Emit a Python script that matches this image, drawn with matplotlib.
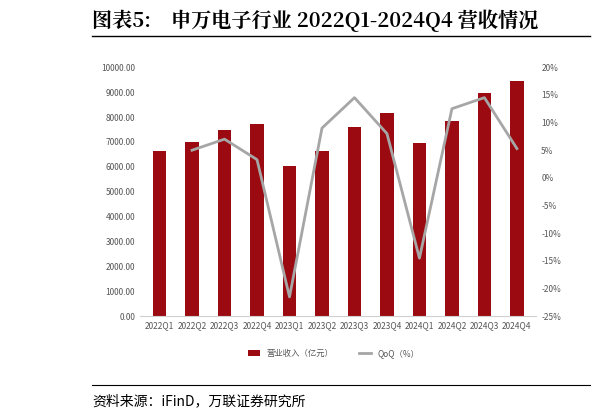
import matplotlib.pyplot as plt
import numpy as np
from matplotlib.ticker import FuncFormatter

plt.rcParams['font.family'] = ['Noto Sans CJK SC', 'DejaVu Sans']

quarters = ['2022Q1', '2022Q2', '2022Q3', '2022Q4', '2023Q1', '2023Q2', '2023Q3', '2023Q4',
            '2024Q1', '2024Q2', '2024Q3', '2024Q4']
revenue = [6650, 6980, 7480, 7730, 6050, 6620, 7580, 8180, 6970, 7850, 8980, 9450]
qoq = [np.nan, 5.0, 7.0, 3.3, -21.5, 9.0, 14.5, 8.0, -14.5, 12.5, 14.5, 5.3]

fig = plt.figure(figsize=(5.96, 4.2), dpi=100)
ax = fig.add_axes([0.235, 0.247, 0.665, 0.593])
x = np.arange(len(quarters))
ax.bar(x, revenue, width=0.42, color='#9b0a10', label='营业收入（亿元）')
ax.set_ylim(0, 10000)
ax.set_yticks(np.arange(0, 10001, 1000))
ax.yaxis.set_major_formatter(FuncFormatter(lambda v, p: f'{v:.2f}'))
ax.set_xticks(x)
ax.set_xticklabels(quarters)
ax.set_xlim(-0.6, len(quarters) - 0.4)
ax.tick_params(labelsize=6, colors='#555555', length=0)
for s in ['top', 'right', 'left']:
    ax.spines[s].set_visible(False)
ax.spines['bottom'].set_color('#d0d0d0')

ax2 = ax.twinx()
ax2.plot(x, qoq, color='#a6a6a6', lw=2, label='QoQ（%）')
ax2.set_ylim(-25, 20)
ax2.set_yticks(np.arange(-25, 21, 5))
ax2.yaxis.set_major_formatter(FuncFormatter(lambda v, p: f'{v:.0f}%'))
ax2.tick_params(labelsize=6, colors='#555555', length=0)
for s in ax2.spines.values():
    s.set_visible(False)

h1, l1 = ax.get_legend_handles_labels()
h2, l2 = ax2.get_legend_handles_labels()
fig.legend(h1 + h2, l1 + l2, loc='center', bbox_to_anchor=(0.56, 0.158), ncol=2,
           frameon=False, fontsize=6, labelcolor='#555555', handlelength=1.5, columnspacing=3)

fig.text(0.155, 0.95, '图表5:    申万电子行业 2022Q1-2024Q4 营收情况', fontsize=14.5,
         fontweight='bold', va='center', family=['Noto Serif CJK SC', 'Noto Sans CJK SC', 'DejaVu Sans'])
fig.add_artist(plt.Line2D([0.155, 0.99], [0.915, 0.915], color='black', lw=1))
fig.add_artist(plt.Line2D([0.155, 0.99], [0.083, 0.083], color='black', lw=0.8))
fig.text(0.155, 0.045, '资料来源：iFinD，万联证券研究所', fontsize=10, style='italic', va='center')

fig.savefig('out.png', dpi=100)
